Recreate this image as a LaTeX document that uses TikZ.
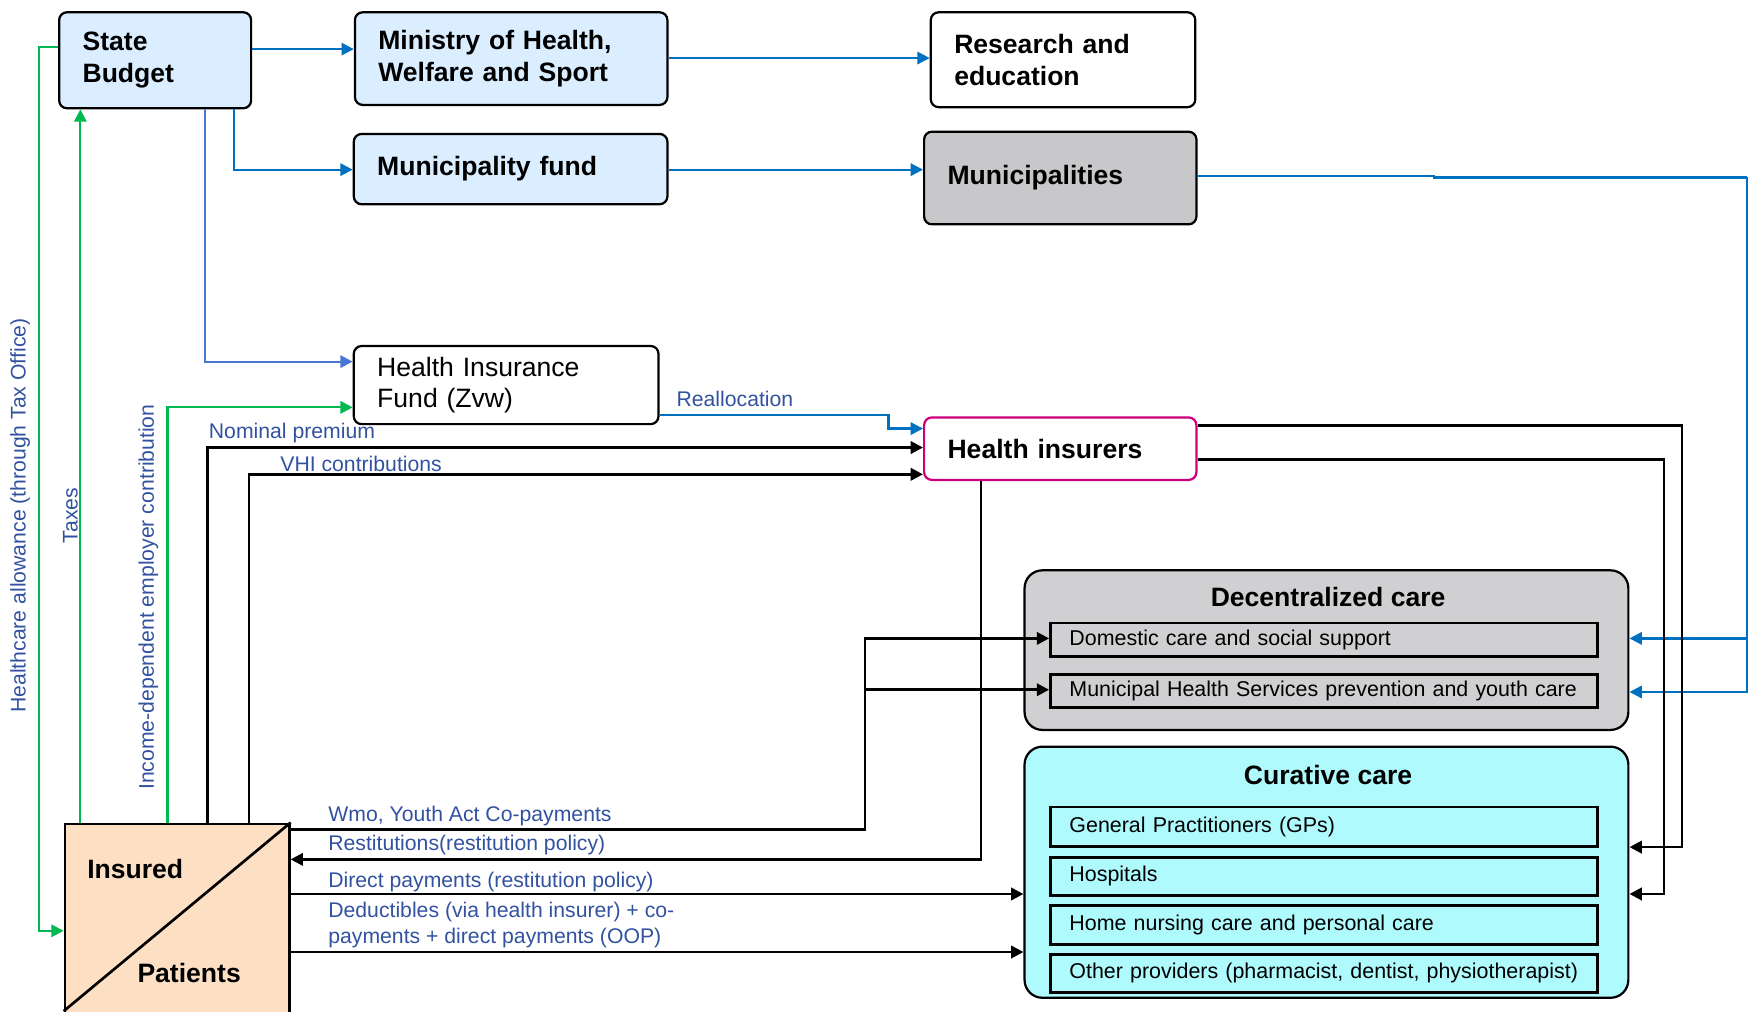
\documentclass[tikz,border=0pt]{standalone}
\usepackage{fontspec}
\setmainfont{Liberation Sans}
\usetikzlibrary{arrows.meta, positioning}

\begin{document}
\begin{tikzpicture}[
    x=1pt, y=-1pt,
    >={Triangle[length=11pt, width=11pt]},
    box/.style={draw, line width=2pt, rounded corners=7pt, anchor=north west,
                align=left, inner xsep=21pt, inner ysep=0pt,
                font=\fontsize{23.8}{29}\selectfont\bfseries},
    group/.style={draw, line width=2pt, rounded corners=16pt, anchor=north west,
                  inner sep=0pt},
    item/.style={draw, line width=2.4pt, anchor=north west, align=left,
                 inner xsep=17pt, inner ysep=0pt, text width=456pt,
                 font=\fontsize{19.2}{23}\selectfont},
    grouptitle/.style={font=\fontsize{23.8}{29}\selectfont\bfseries, inner sep=0pt},
    flowlabel/.style={text=labelBlue, inner sep=0pt, anchor=west,
                      font=\fontsize{19}{23}\selectfont},
    blueflow/.style={->, draw=flowBlue, line width=2pt},
    greenflow/.style={->, draw=flowGreen, line width=2pt},
    blackflow/.style={->, draw=black, line width=2.4pt},
]

\definecolor{boxBlue}{RGB}{218,238,255}     % light blue boxes
\definecolor{muniGray}{RGB}{200,200,202}    % municipalities
\definecolor{decGray}{RGB}{208,207,209}     % decentralized care
\definecolor{cureCyan}{RGB}{174,250,253}    % curative care
\definecolor{peach}{RGB}{253,224,196}       % insured / patients
\definecolor{flowBlue}{RGB}{0,112,192}
\definecolor{fundBlue}{RGB}{72,118,212}
\definecolor{flowGreen}{RGB}{0,184,80}
\definecolor{labelBlue}{RGB}{50,82,160}
\definecolor{insMagenta}{RGB}{204,0,122}

\useasboundingbox (0,0) rectangle (1568,906);

% ============================================================
% TOP ROW: STATE LEVEL
% ============================================================
\node[box, fill=boxBlue, text width=130pt, minimum height=86pt]
    (budget) at (52,10) {State\\Budget};
\node[box, fill=boxBlue, text width=238pt, minimum height=83pt]
    (ministry) at (317,10) {Ministry of Health,\\Welfare and Sport};
\node[box, text width=195pt, minimum height=85pt]
    (research) at (833,10) {Research and\\education};
\node[box, fill=boxBlue, text width=239pt, minimum height=63pt]
    (munfund) at (316,119) {Municipality fund};
\node[box, fill=muniGray, text width=202pt, minimum height=83pt]
    (municip) at (827,117) {Municipalities};

% ============================================================
% INSURANCE LEVEL
% ============================================================
\node[box, font=\fontsize{23.8}{28}\selectfont, text width=231pt, minimum height=70pt]
    (hif) at (316,309) {Health Insurance\\Fund (Zvw)};
\node[box, draw=insMagenta, text width=202pt, minimum height=56pt]
    (insurers) at (827,373) {Health insurers};

% ============================================================
% PROVIDERS
% ============================================================
\node[group, fill=decGray, minimum width=541pt, minimum height=143pt]
    (decent) at (917,510) {};
\node[grouptitle] (dectitle) at (1190,535) {Decentralized care};
\node[item, minimum height=30pt] (domestic) at (940,557)
    {Domestic care and social support};
\node[item, minimum height=30pt] (mhs) at (940,603)
    {Municipal Health Services prevention and youth care};

\node[group, fill=cureCyan, minimum width=541pt, minimum height=225pt]
    (curative) at (917,668) {};
\node[grouptitle] (curtitle) at (1190,694) {Curative care};
\node[item, minimum height=35pt] (gp) at (940,722) {General Practitioners (GPs)};
\node[item, minimum height=34pt] (hosp) at (940,767) {Hospitals};
\node[item, minimum height=35pt] (home) at (940,810) {Home nursing care and personal care};
\node[item, minimum height=34pt] (other) at (940,854)
    {Other providers (pharmacist, dentist, physiotherapist)};

% ============================================================
% INSURED / PATIENTS
% ============================================================
\node[draw, line width=2.4pt, fill=peach, anchor=north west, inner sep=0pt,
      minimum width=201pt, minimum height=190pt] (insured) at (57,737) {};
\draw[line width=2.4pt] (insured.north east) -- (insured.west |- 0,906);
\node[grouptitle, anchor=west] (instext) at (78,779) {Insured};
\node[grouptitle, anchor=west] (pattext) at (123,872) {Patients};

% ============================================================
% BLUE FLOWS (state budget)
% ============================================================
\draw[blueflow] (budget.east |- 0,44) -- (ministry.west |- 0,44);
\draw[blueflow] (budget.south -| 210,0) |- (munfund.west |- 0,152);
\draw[blueflow, draw=fundBlue] (budget.south -| 184,0) |- (hif.west |- 0,324);
\draw[blueflow] (ministry.east |- 0,52) -- (research.west |- 0,52);
\draw[blueflow] (munfund.east |- 0,152) -- (municip.west |- 0,152);

% municipalities to decentralized care
\coordinate (mright) at (1565,159);
\draw[flowBlue, line width=2pt] (municip.east |- 0,158) -- (1285,158) -- (1285,159) -- (mright);
\draw[blueflow] (mright) |- (decent.east |- 0,572);
\draw[blueflow] (mright) |- (decent.east |- 0,620);

% reallocation
\draw[blueflow] (hif.east |- 0,372) -- (796,372) |- (insurers.west |- 0,384);
\node[flowlabel] (lblrealloc) at (606,357) {Reallocation};

% ============================================================
% GREEN FLOWS (taxes, allowance, contribution)
% ============================================================
\draw[greenflow] (budget.west |- 0,42) -| (35,834) -- (insured.west |- 0,834);
\draw[greenflow] (insured.north -| 72,0) -- (budget.south -| 72,0);
\draw[greenflow] (insured.north -| 150,0) |- (hif.west |- 0,365);

\node[flowlabel, anchor=center, rotate=90] (lblallow) at (18,462)
    {Healthcare allowance (through Tax Office)};
\node[flowlabel, anchor=center, rotate=90] (lbltax) at (63,462) {Taxes};
\node[flowlabel, anchor=center, rotate=90] (lblincome) at (133,535)
    {Income-dependent employer contribution};

% ============================================================
% BLACK FLOWS (premiums, payments)
% ============================================================
\draw[blackflow] (insured.north -| 186,0) |- (insurers.west |- 0,401);
\draw[blackflow] (insured.north -| 223,0) |- (insurers.west |- 0,425);
\node[flowlabel] (lblnominal) at (187,388) {Nominal premium};
\node[flowlabel] (lblvhi) at (251,416) {VHI contributions};

% Wmo / Youth Act co-payments
\coordinate (wmo) at (775,618);
\draw[blackflow] (insured.east |- 0,743) -| (775,572) -- (domestic.west |- 0,572);
\draw[blackflow] (wmo) -- (mhs.west |- 0,618);
\node[flowlabel] (lblwmo) at (294,731) {Wmo, Youth Act Co-payments};

% restitutions
\draw[blackflow] (insurers.south -| 879,0) |- (insured.east |- 0,770);
\node[flowlabel] (lblrest) at (294,757) {Restitutions(restitution policy)};

% direct payments to curative care
\draw[blackflow] (insured.east |- 0,801) -- (curative.west |- 0,801);
\draw[blackflow] (insured.east |- 0,853) -- (curative.west |- 0,853);
\node[flowlabel] (lbldirect) at (294,790) {Direct payments (restitution policy)};
\node[flowlabel, align=left] (lbldeduct) at (294,829)
    {Deductibles (via health insurer) + co-\\payments + direct payments (OOP)};

% insurers to curative care
\draw[blackflow] (insurers.east |- 0,381) -| (1507,759) -- (curative.east |- 0,759);
\draw[blackflow] (insurers.east |- 0,412) -| (1491,801) -- (curative.east |- 0,801);

\end{tikzpicture}
\end{document}
